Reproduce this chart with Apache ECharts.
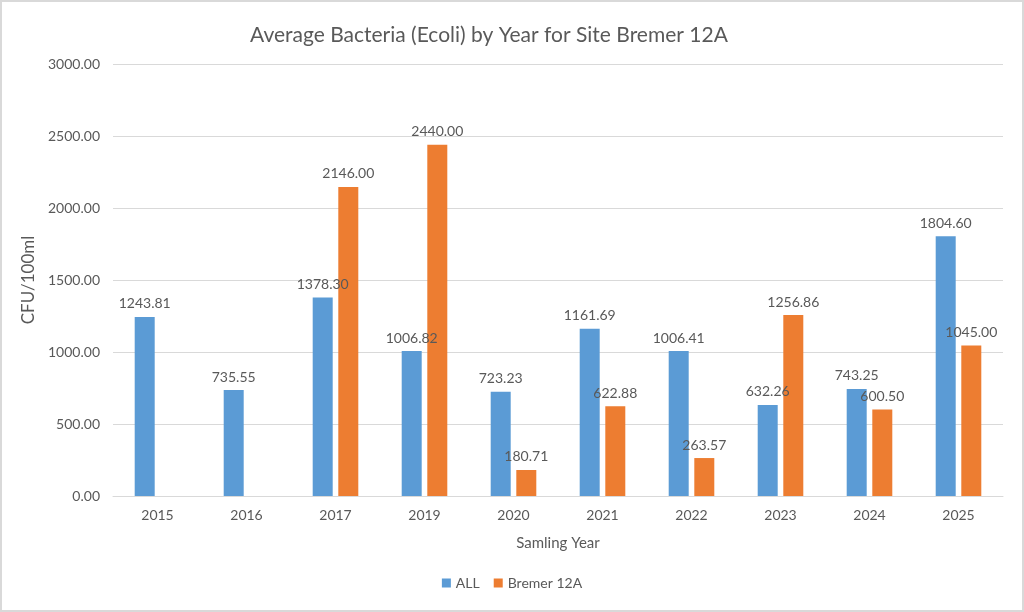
<!DOCTYPE html>
<html lang="en">
<head>
    <meta charset="UTF-8">
    <title>Average Bacteria (Ecoli) by Year for Site Bremer 12A</title>
    <script src="https://cdn.jsdelivr.net/npm/echarts@6/dist/echarts.min.js"></script>
    <style type="text/css">
        html, body {
            margin: 0;
            padding: 0;
            background: #ffffff;
        }
        #chart {
            width: 1020px;
            height: 608px;
            border: 2px solid #d9d9d9;
        }
    </style>
</head>
<body>
    <div id="chart"></div>
    <script>
        // data
        var years = ['2015', '2016', '2017', '2019', '2020', '2021', '2022', '2023', '2024', '2025'];
        var allSites = [1243.81, 735.55, 1378.30, 1006.82, 723.23, 1161.69, 1006.41, 632.26, 743.25, 1804.60];
        var bremer12A = [null, null, 2146.00, 2440.00, 180.71, 622.88, 263.57, 1256.86, 600.50, 1045.00];

        var textColor = '#595959';
        var fontName = 'Lato';

        var chart = echarts.init(document.getElementById('chart'));

        function barLabel() {
            return {
                show: true,
                position: 'top',
                distance: 6,
                color: textColor,
                fontFamily: fontName,
                fontSize: 14,
                formatter: function (p) {
                    return p.value == null ? '' : p.value.toFixed(2);
                }
            };
        }

        var option = {
            animation: false,
            textStyle: { fontFamily: fontName },
            title: {
                text: 'Average Bacteria (Ecoli) by Year for Site Bremer 12A',
                left: 243,
                top: 18,
                textStyle: {
                    color: textColor,
                    fontFamily: fontName,
                    fontSize: 21,
                    fontWeight: 'normal'
                }
            },
            legend: {
                bottom: 15,
                left: 'center',
                itemWidth: 9,
                itemHeight: 9,
                itemGap: 14,
                icon: 'rect',
                textStyle: { color: textColor, fontFamily: fontName, fontSize: 14 },
                data: ['ALL', 'Bremer 12A']
            },
            grid: {
                left: 111,
                right: 19,
                top: 62,
                bottom: 114
            },
            xAxis: {
                type: 'category',
                data: years,
                name: 'Samling Year',
                nameLocation: 'middle',
                nameGap: 40,
                nameTextStyle: { color: textColor, fontFamily: fontName, fontSize: 15 },
                axisTick: { show: false },
                axisLine: { lineStyle: { color: '#d9d9d9', width: 1 } },
                axisLabel: { color: textColor, fontFamily: fontName, fontSize: 14, margin: 12 }
            },
            yAxis: {
                type: 'value',
                min: 0,
                max: 3000,
                interval: 500,
                name: 'CFU/100ml',
                nameLocation: 'middle',
                nameGap: 71,
                nameTextStyle: { color: textColor, fontFamily: fontName, fontSize: 17 },
                axisLine: { show: false },
                axisTick: { show: false },
                axisLabel: {
                    color: textColor,
                    fontFamily: fontName,
                    fontSize: 14,
                    margin: 13,
                    formatter: function (v) { return v.toFixed(2); }
                },
                splitLine: { lineStyle: { color: '#d9d9d9', width: 1 } }
            },
            series: [
                {
                    name: 'ALL',
                    type: 'bar',
                    data: allSites,
                    barWidth: 20,
                    barGap: '28%',
                    itemStyle: { color: '#5b9bd5' },
                    label: barLabel()
                },
                {
                    name: 'Bremer 12A',
                    type: 'bar',
                    data: bremer12A,
                    barWidth: 20,
                    itemStyle: { color: '#ed7d31' },
                    label: barLabel()
                }
            ]
        };

        chart.setOption(option);
    </script>
</body>
</html>
